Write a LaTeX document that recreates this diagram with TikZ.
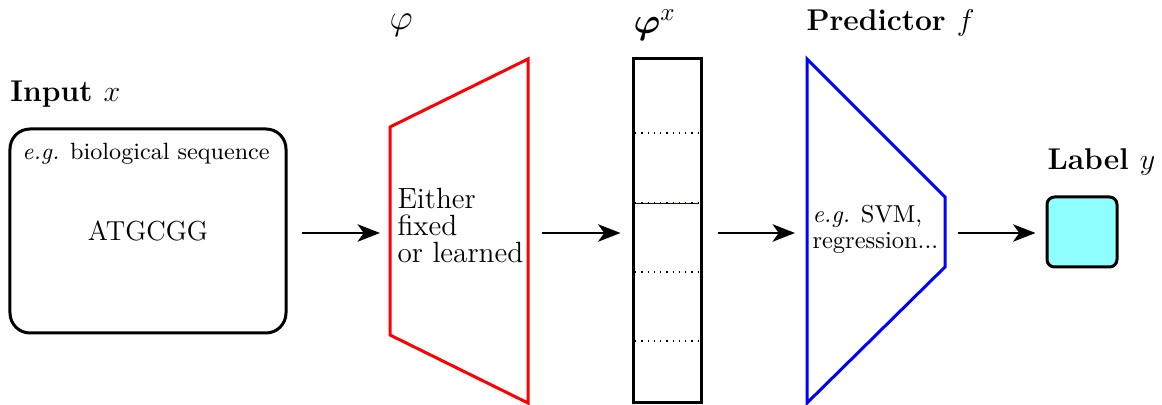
\documentclass[tikz,border=0pt]{standalone}
\usepackage{amsmath,amssymb,bm}
\usetikzlibrary{arrows.meta}
\definecolor{labcyan}{RGB}{143,255,255}
\tikzset{
  shp/.style={line width=1.2pt, line join=miter},
  arr/.style={line width=0.8pt, -{Stealth[length=9pt,width=7pt,inset=2.5pt]}},
  ttl/.style={anchor=base west, inner sep=0pt, font=\fontsize{12}{14}\selectfont\bfseries},
  dots/.style={dotted, line width=0.5pt},
}
\begin{document}
\begin{tikzpicture}[x=0.4pt,y=-0.4pt]
\useasboundingbox (0,0) rectangle (1162,405);
% input
\node[shp, draw, rounded corners=8pt, minimum width=110.4pt, minimum height=81.6pt,
      inner sep=0pt, font=\fontsize{11}{13}\selectfont] (in) at (148,231) {ATGCGG};
\node[anchor=base west, inner sep=0pt, font=\fontsize{9.4}{11}\selectfont] (eg1) at (22,160) {\textit{e.g.} biological sequence};
\node[ttl] (tin) at (10,102) {Input $x$};
% red trapezoid
\draw[shp, red] (390,127) -- (528,59) -- (528,403) -- (390,335) -- cycle;
\coordinate (redL) at (390,233);
\coordinate (redR) at (528,233);
\node[anchor=base west, inner sep=0pt, align=left, font=\fontsize{11.7}{10.8}\selectfont] (fix) at (397,263) {Either\\fixed\\or learned};
\node[anchor=base west, inner sep=0pt, font=\fontsize{15.5}{17}\selectfont] (tphi) at (389,30) {$\varphi$};
% vector
\node[shp, draw, minimum width=27.2pt, minimum height=137.6pt, inner sep=0pt] (vec) at (667,231) {};
\draw[dots] (635,133) -- (699,133);
\draw[line width=0.3pt, blue!70!black] (635,203) -- (699,203);
\draw[dots] (635,203) -- (699,203);
\draw[dots] (635,272) -- (699,272);
\draw[dots] (635,341) -- (699,341);
\node[anchor=base west, inner sep=0pt, font=\fontsize{14}{16}\selectfont] (tvec) at (633,34) {$\bm{\varphi}^x$};
% blue predictor
\draw[shp, blue] (807,59) -- (945,197) -- (945,267) -- (807,403) -- cycle;
\coordinate (bluL) at (807,233);
\coordinate (bluR) at (945,233);
\node[anchor=base west, inner sep=0pt, align=left, font=\fontsize{9.8}{10.4}\selectfont] (svm) at (812,249) {\textit{e.g.} SVM,\\regression...};
\node[ttl] (tpred) at (806,31) {Predictor $f$};
% label
\node[shp, draw, fill=labcyan, rounded corners=3pt, minimum width=28pt, minimum height=28pt, inner sep=0pt] (lab) at (1082,232) {};
\node[ttl] (tlab) at (1047,170) {Label $y$};
% arrows
\draw[arr] ([xshift=5.6pt]in.east |- redL) -- ([xshift=-4pt]redL);
\draw[arr] ([xshift=5.6pt]redR) -- ([xshift=-4.4pt]vec.west |- redR);
\draw[arr] ([xshift=6pt]vec.east |- bluL) -- ([xshift=-4.8pt]bluL);
\draw[arr] ([xshift=5.2pt]bluR) -- ([xshift=-4pt]lab.west |- bluR);
\end{tikzpicture}
\end{document}
